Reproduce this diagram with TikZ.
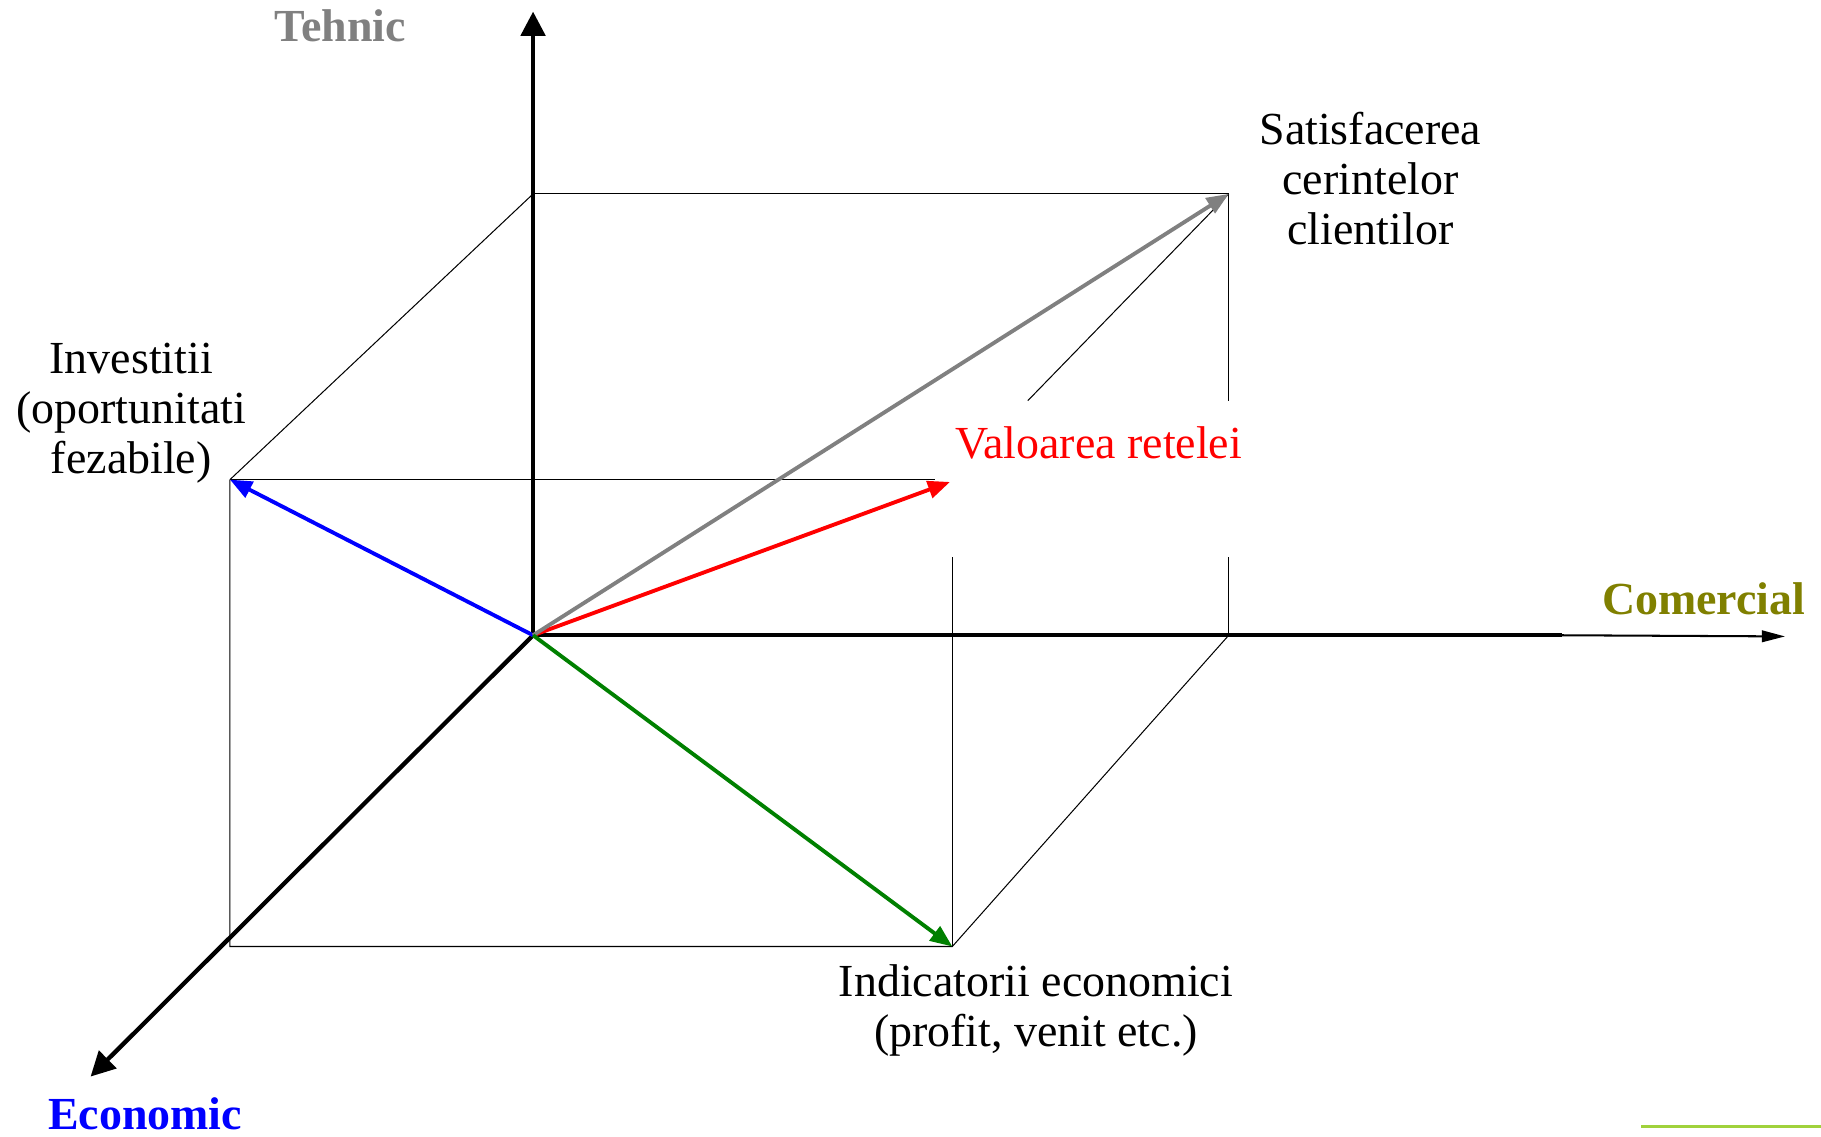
\documentclass[tikz,border=0pt]{standalone}
\usepackage{fontspec}
\setmainfont{Liberation Serif}
\usetikzlibrary{arrows.meta,positioning}
\definecolor{softgray}{RGB}{128,128,128}
\definecolor{softolive}{RGB}{128,128,0}
\definecolor{softgreen}{RGB}{0,128,0}
\definecolor{softlime}{RGB}{160,210,60}

\begin{document}
\begin{tikzpicture}[x=0.02cm,y=-0.02cm,
  axis/.style={line width=2.1pt,-{Triangle[length=0.42cm,width=0.42cm]}},
  vec/.style={line width=1.9pt,-{Triangle[length=0.38cm,width=0.3cm]}},
  guide/.style={line width=0.5pt},
  lbl/.style={font=\fontsize{22.5}{24.5}\selectfont,align=center,inner sep=0pt},
  axlbl/.style={font=\fontsize{22.5}{24.5}\selectfont\bfseries,inner sep=0pt}
]
\useasboundingbox (0,0) rectangle (1568,979);
\coordinate (o) at (459,547);
\coordinate (tehnic) at (459,10);
\coordinate (economic) at (78,927);
\coordinate (comercial) at (1537,548);
\coordinate (comthick) at (1345,547);
\coordinate (top) at (459,167);
\coordinate (satis) at (1058,167);
\coordinate (invest) at (198,413);
\coordinate (invend) at (805,413);
\coordinate (corner) at (198,815);
\coordinate (indic) at (820,815);
\coordinate (indtop) at (820,480);
\coordinate (com) at (1058,547);
\coordinate (comtop) at (1058,480);
\coordinate (satbot) at (1058,345);
\coordinate (valtip) at (818,415);
\coordinate (pointer) at (885,345);

\node[axlbl,text=softgray] (ltehnic) at (293,22) {Tehnic};
\node[axlbl,text=softolive] (lcomercial) at (1467,516) {Comercial};
\node[axlbl,text=blue] (leconomic) at (125,959) {Economic};
\node[lbl] (lsatis) at (1180,154) {Satisfacerea\\cerintelor\\clientilor};
\node[lbl] (linvest) at (113,356) {Investitii\\(oportunitati\\fezabile)};
\node[lbl] (lindic) at (892,870) {Indicatorii economici\\(profit, venit etc.)};
\node[lbl,text=red] (lval) at (946,381) {Valoarea retelei};

\draw[guide] (top)--(satis);
\draw[guide] (invest)--(top);
\draw[guide] (invest)--(invend);
\draw[guide] (invest)--(corner)--(indic)--(com);
\draw[guide] (indtop)--(indic);
\draw[guide] (satis)--(satbot);
\draw[guide] (comtop)--(com);
\draw[guide] (pointer)--(satis);

\draw[axis] (o)--(tehnic);
\draw[axis] (o)--(economic);
\draw[line width=2.1pt] (o)--(comthick);
\draw[line width=1pt,-{Triangle[length=0.4cm,width=0.2cm]}] (comthick)--(comercial);

\draw[vec,blue] (o)--(invest);
\draw[vec,red] (o)--(valtip);
\draw[vec,softgray] (o)--(satis);
\draw[vec,softgreen] (o)--(indic);

\draw[softlime,line width=1.5pt] (1413,970)--(1568,970);
\end{tikzpicture}
\end{document}
